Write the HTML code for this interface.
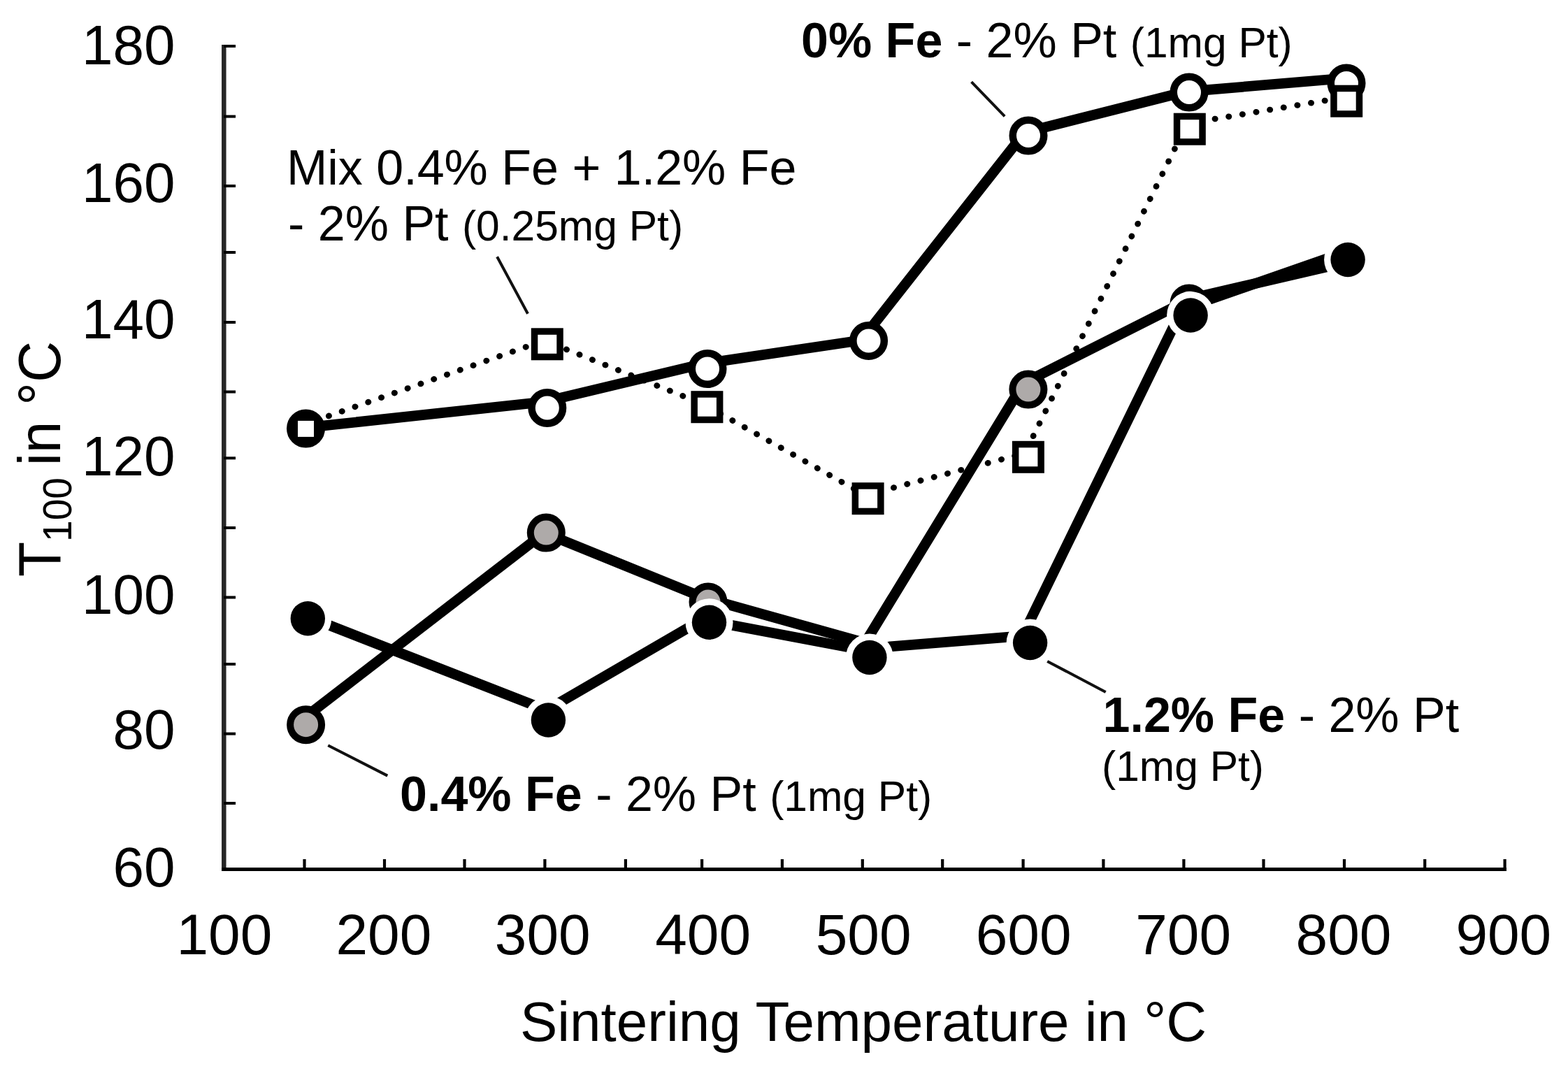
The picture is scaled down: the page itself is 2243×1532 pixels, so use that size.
<!DOCTYPE html>
<html><head><meta charset="utf-8"><title>T100 vs Sintering Temperature</title>
<style>
html,body{margin:0;padding:0;background:#fff;}
body{width:2243px;height:1532px;overflow:hidden;}
svg{display:block;}
text{font-family:"Liberation Sans",Arial,sans-serif;fill:#000;}
</style></head>
<body>
<svg id="chart" width="2243" height="1532" viewBox="0 0 2243 1532">
<rect x="0" y="0" width="2243" height="1532" fill="#fff"/>

<!-- axes -->
<g id="axes">
  <line x1="320.3" y1="64" x2="320.3" y2="1246" stroke="#262626" stroke-width="6.5"/>
  <line x1="317" y1="1243.5" x2="2155" y2="1243.5" stroke="#000" stroke-width="5"/>
  <g stroke="#000" stroke-width="4">
    <line x1="320" y1="66" x2="337" y2="66"/>
    <line x1="320" y1="166.6" x2="337" y2="166.6"/>
    <line x1="320" y1="266" x2="337" y2="266"/>
    <line x1="320" y1="361" x2="337" y2="361"/>
    <line x1="320" y1="461" x2="337" y2="461"/>
    <line x1="320" y1="560.5" x2="337" y2="560.5"/>
    <line x1="320" y1="655.3" x2="337" y2="655.3"/>
    <line x1="320" y1="755" x2="337" y2="755"/>
    <line x1="320" y1="854.5" x2="337" y2="854.5"/>
    <line x1="320" y1="950" x2="337" y2="950"/>
    <line x1="320" y1="1049.6" x2="337" y2="1049.6"/>
    <line x1="320" y1="1149" x2="337" y2="1149"/>
  </g>
  <g stroke="#000" stroke-width="4.2">
    <line x1="435.5" y1="1229" x2="435.5" y2="1243"/>
    <line x1="550" y1="1229" x2="550" y2="1243"/>
    <line x1="664.5" y1="1229" x2="664.5" y2="1243"/>
    <line x1="779.4" y1="1229" x2="779.4" y2="1243"/>
    <line x1="894.9" y1="1229" x2="894.9" y2="1243"/>
    <line x1="1004.1" y1="1229" x2="1004.1" y2="1243"/>
    <line x1="1118.9" y1="1229" x2="1118.9" y2="1243"/>
    <line x1="1233.8" y1="1229" x2="1233.8" y2="1243"/>
    <line x1="1348.2" y1="1229" x2="1348.2" y2="1243"/>
    <line x1="1463.6" y1="1229" x2="1463.6" y2="1243"/>
    <line x1="1578.4" y1="1229" x2="1578.4" y2="1243"/>
    <line x1="1693.4" y1="1229" x2="1693.4" y2="1243"/>
    <line x1="1807.5" y1="1229" x2="1807.5" y2="1243"/>
    <line x1="1923" y1="1229" x2="1923" y2="1243"/>
    <line x1="2038.2" y1="1229" x2="2038.2" y2="1243"/>
    <line x1="2152.6" y1="1229" x2="2152.6" y2="1246"/>
  </g>
</g>

<!-- tick labels -->
<g id="ylabels" font-size="80" text-anchor="end">
  <text x="250.5" y="91.8">180</text>
  <text x="250.5" y="288.7">160</text>
  <text x="250.5" y="483.8">140</text>
  <text x="250.5" y="679.6">120</text>
  <text x="250.5" y="877.9">100</text>
  <text x="250.5" y="1071">80</text>
  <text x="250.5" y="1268.4">60</text>
</g>
<g id="xlabels" font-size="82" text-anchor="middle">
  <text x="320.9" y="1365">100</text>
  <text x="548.9" y="1365">200</text>
  <text x="776.2" y="1365">300</text>
  <text x="1005.6" y="1365">400</text>
  <text x="1235.1" y="1365">500</text>
  <text x="1464.1" y="1365">600</text>
  <text x="1692.6" y="1365">700</text>
  <text x="1922" y="1365">800</text>
  <text x="2150.8" y="1365">900</text>
</g>

<!-- axis titles -->
<text id="xtitle" x="1235" y="1488.7" font-size="80" text-anchor="middle">Sintering Temperature in °C</text>
<text id="ytitle" transform="translate(85.7,825) rotate(-90) scale(1,1.035)" font-size="82">T<tspan font-size="55" dy="15.3">100</tspan><tspan dy="-15.3" dx="-6"> in °C</tspan></text>

<!-- series lines -->
<g fill="none" stroke="#000" stroke-width="8.6" stroke-dasharray="0.4 19.5" stroke-linecap="round">
  <line x1="437.5" y1="606.5" x2="778.6" y2="487.1" stroke-dashoffset="5.10"/>
  <line x1="778.6" y1="487.1" x2="1006.4" y2="578.2" stroke-dashoffset="5.65"/>
  <line x1="1006.4" y1="578.2" x2="1237.6" y2="708.2" stroke-dashoffset="12.35"/>
  <line x1="1237.6" y1="708.2" x2="1465.9" y2="648.5" stroke-dashoffset="17.65"/>
  <line x1="1465.9" y1="648.5" x2="1698.3" y2="176.7" stroke-dashoffset="12.25"/>
  <line x1="1698.3" y1="176.7" x2="1926.2" y2="138.8" stroke-dashoffset="19.55"/>
</g>
<g fill="none" stroke="#000" stroke-width="14.7" stroke-linejoin="round">
  <polyline id="lineA" points="437.5,611.6 777.8,574.9 1007.0,520.1 1232.0,486.7 1465.9,189.3 1696.0,131.1 1926.0,111.8"/>
  <polyline id="lineC" points="437.6,1025.1 778.5,762.3 1008.0,855.5 1237.4,919.7 1464.1,548.0 1705.3,426.4 1926.0,375.4"/>
  <polyline id="lineD" points="440.3,882.4 781.7,1015.9 1004.5,886.3 1228.1,928.6 1462.7,909.7 1690.9,442.1 1928.1,359.4"/>
</g>

<!-- markers A: open circles -->
<g fill="#fff" stroke="#000" stroke-width="10.5">
  <circle cx="437.5" cy="613" r="22.25"/>
  <circle cx="782.8" cy="583.5" r="22.25"/>
  <circle cx="1012" cy="527.5" r="22.25"/>
  <circle cx="1242.6" cy="487.5" r="22.25"/>
  <circle cx="1471" cy="194" r="22.25"/>
  <circle cx="1701" cy="132" r="22.25"/>
  <circle cx="1926" cy="119" r="22.25"/>
</g>
<!-- markers C: gray circles -->
<g fill="#aeaaa9" stroke="#000" stroke-width="10">
  <circle cx="437.6" cy="1036.7" r="22.5"/>
  <circle cx="781.3" cy="762.1" r="22.5"/>
  <circle cx="1013" cy="861" r="22.5"/>
  <circle cx="1470.9" cy="557.1" r="22.5"/>
  <circle cx="1701" cy="434" r="22.5"/>
</g>
<!-- markers B: open squares -->
<g fill="#fff" stroke="#000" stroke-width="9.5">
  <rect x="423" y="598.9" width="29" height="29" stroke-width="6"/>
  <rect x="764.55" y="474.05" width="36.5" height="36.5"/>
  <rect x="993.15" y="563.95" width="36.5" height="36.5"/>
  <rect x="1223.35" y="694.95" width="36.5" height="36.5"/>
  <rect x="1452.65" y="635.55" width="36.5" height="36.5"/>
  <rect x="1683.55" y="166.45" width="36.5" height="36.5"/>
  <rect x="1907.95" y="126.45" width="36.5" height="36.5"/>
</g>
<!-- markers D: black circles with white halo -->
<g fill="#fff">
  <circle cx="440.3" cy="884.7" r="34"/>
  <circle cx="784.4" cy="1030" r="34"/>
  <circle cx="1014.5" cy="890.2" r="34"/>
  <circle cx="1243.9" cy="940.5" r="34"/>
  <circle cx="1473.6" cy="919.5" r="34"/>
  <circle cx="1703.1" cy="451" r="34"/>
  <circle cx="1928.1" cy="371.5" r="34"/>
</g>
<g fill="#000">
  <circle cx="440.3" cy="884.7" r="24.7"/>
  <circle cx="784.4" cy="1030" r="24.7"/>
  <circle cx="1014.5" cy="890.2" r="24.7"/>
  <circle cx="1243.9" cy="940.5" r="24.7"/>
  <circle cx="1473.6" cy="919.5" r="24.7"/>
  <circle cx="1703.1" cy="451" r="24.7"/>
  <circle cx="1928.1" cy="371.5" r="24.7"/>
</g>

<!-- leader lines -->
<g stroke="#111" stroke-width="4">
  <line x1="1389.6" y1="117.1" x2="1437.2" y2="166.4"/>
  <line x1="711.1" y1="367.2" x2="755" y2="448.7"/>
  <line x1="469.3" y1="1066.2" x2="554.3" y2="1109.6"/>
  <line x1="1498.2" y1="946" x2="1581.7" y2="989.9"/>
</g>

<!-- annotations -->
<text id="lblA" x="1146" y="81.9" font-size="70"><tspan font-weight="bold">0% Fe</tspan> - 2% Pt <tspan font-size="60.5">(1mg Pt)</tspan></text>
<text id="lblB1" x="410" y="263.5" font-size="70">Mix 0.4% Fe + 1.2% Fe</text>
<text id="lblB2" x="412" y="343.8" font-size="70">- 2% Pt <tspan font-size="60.5">(0.25mg Pt)</tspan></text>
<text id="lblC" x="572" y="1159.5" font-size="70"><tspan font-weight="bold">0.4% Fe</tspan> - 2% Pt <tspan font-size="60.5">(1mg Pt)</tspan></text>
<text id="lblD1" x="1577.5" y="1047.4" font-size="70"><tspan font-weight="bold">1.2% Fe</tspan> - 2% Pt</text>
<text id="lblD2" x="1576" y="1117.2" font-size="60.5">(1mg Pt)</text>
</svg>
</body></html>
